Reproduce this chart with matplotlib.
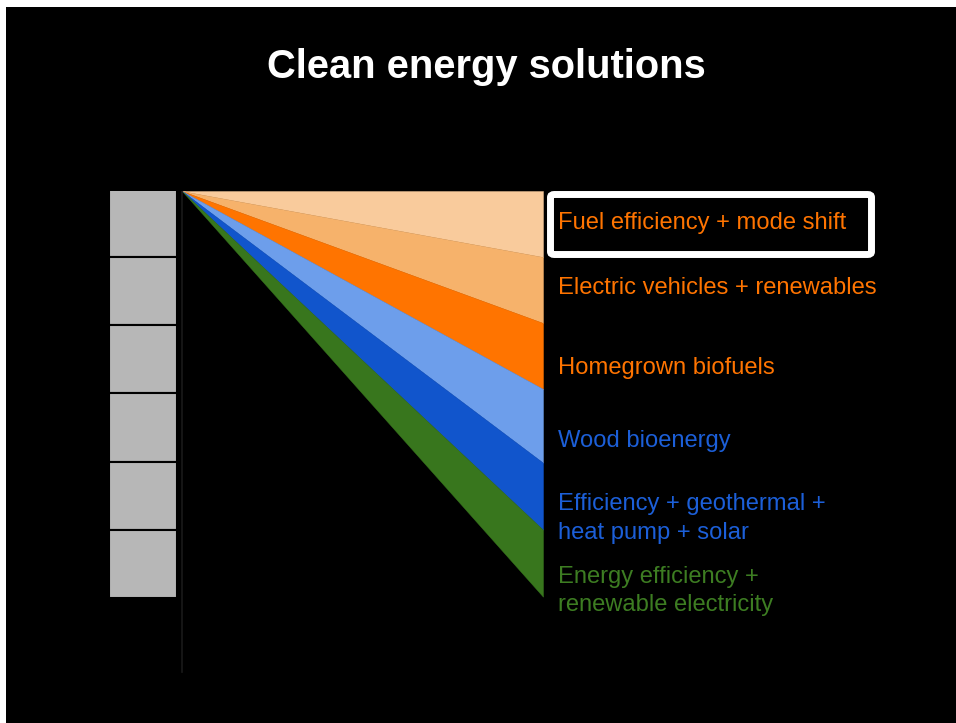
import numpy as np
import matplotlib.pyplot as plt
from matplotlib.patches import Rectangle, FancyBboxPatch

plt.rcParams['font.family'] = ['Liberation Sans', 'DejaVu Sans']

# wedge sizes (in "box" units), top to bottom
solutions = ['Fuel efficiency + mode shift',
             'Electric vehicles + renewables',
             'Homegrown biofuels',
             'Wood bioenergy',
             'Efficiency + geothermal +\nheat pump + solar',
             'Energy efficiency +\nrenewable electricity']
wedge = [0.975, 0.975, 0.975, 1.09, 0.99, 0.99]
fills = ['#F9CB9C', '#F6B26B', '#FF7400', '#6D9EEB', '#1155CC', '#38761D']
text_cols = ['#FF7400', '#FF7400', '#FF7400', '#1C5FD8', '#1C5FD8', '#3D7D22']
label_y = [0.48, 1.44, 2.62, 3.69, 4.84, 5.91]
boxes = 6          # emission blocks on the left
years = [0, 1]     # start -> end of wedge

W, H = 956, 723
fig = plt.figure(figsize=(W / 100, H / 100), dpi=100, facecolor='white')
fig.patches.append(Rectangle((6 / W, 0), 1, (H - 7) / H, transform=fig.transFigure,
                             facecolor='black', edgecolor='none', zorder=-5))

# axes: x=0 at px 182, x=1 at px 543; y=0 at px 191, one unit = 67.67 px
px_x, px_y = 361.0, 67.67
left_px, right_px, top_px, bot_px = 100, 560, 191, 680
ax = fig.add_axes([left_px / W, 1 - bot_px / H, (right_px - left_px) / W, (bot_px - top_px) / H])
ax.set_zorder(2)
ax.set_xlim((left_px - 182) / px_x, (right_px - 182) / px_x)
ax.set_ylim((bot_px - top_px) / px_y, 0)
ax.axis('off')

# stacked wedges
ys = np.array([[0, w] for w in wedge])
polys = ax.stackplot(years, ys, colors=fills)
for p, c in zip(polys, fills):
    p.set_edgecolor(c)
    p.set_linewidth(0.3)

# grey blocks
bh = 1.007
ax.barh(-0.03 + (np.arange(boxes) + 0.5) * bh, 0.186, height=bh, left=-0.201,
        color='#B7B7B7', edgecolor='black', linewidth=1.5)

# vertical base line
ax.plot([0, 0], [0, (672 - 191) / px_y], color='#1a1a1a', lw=1.2)

# labels
for lab, y, c in zip(solutions, label_y, text_cols):
    ax.text((558 - 182) / px_x, y, lab, color=c, fontsize=17.1, va='center', ha='left',
            linespacing=1.36, clip_on=False)

# highlight box round first label
fig.patches.append(FancyBboxPatch((550.5 / W, 1 - 254.5 / H), 321 / W, 60 / H,
                                  boxstyle='round,pad=0,rounding_size=0.004',
                                  transform=fig.transFigure, facecolor='none',
                                  edgecolor='white', linewidth=5, zorder=5))

fig.text(486 / W, 1 - 67 / H, 'Clean energy solutions', color='white', fontsize=28.7,
         fontweight='bold', ha='center', va='center')

fig.savefig('out.png', dpi=100, facecolor=fig.get_facecolor())
